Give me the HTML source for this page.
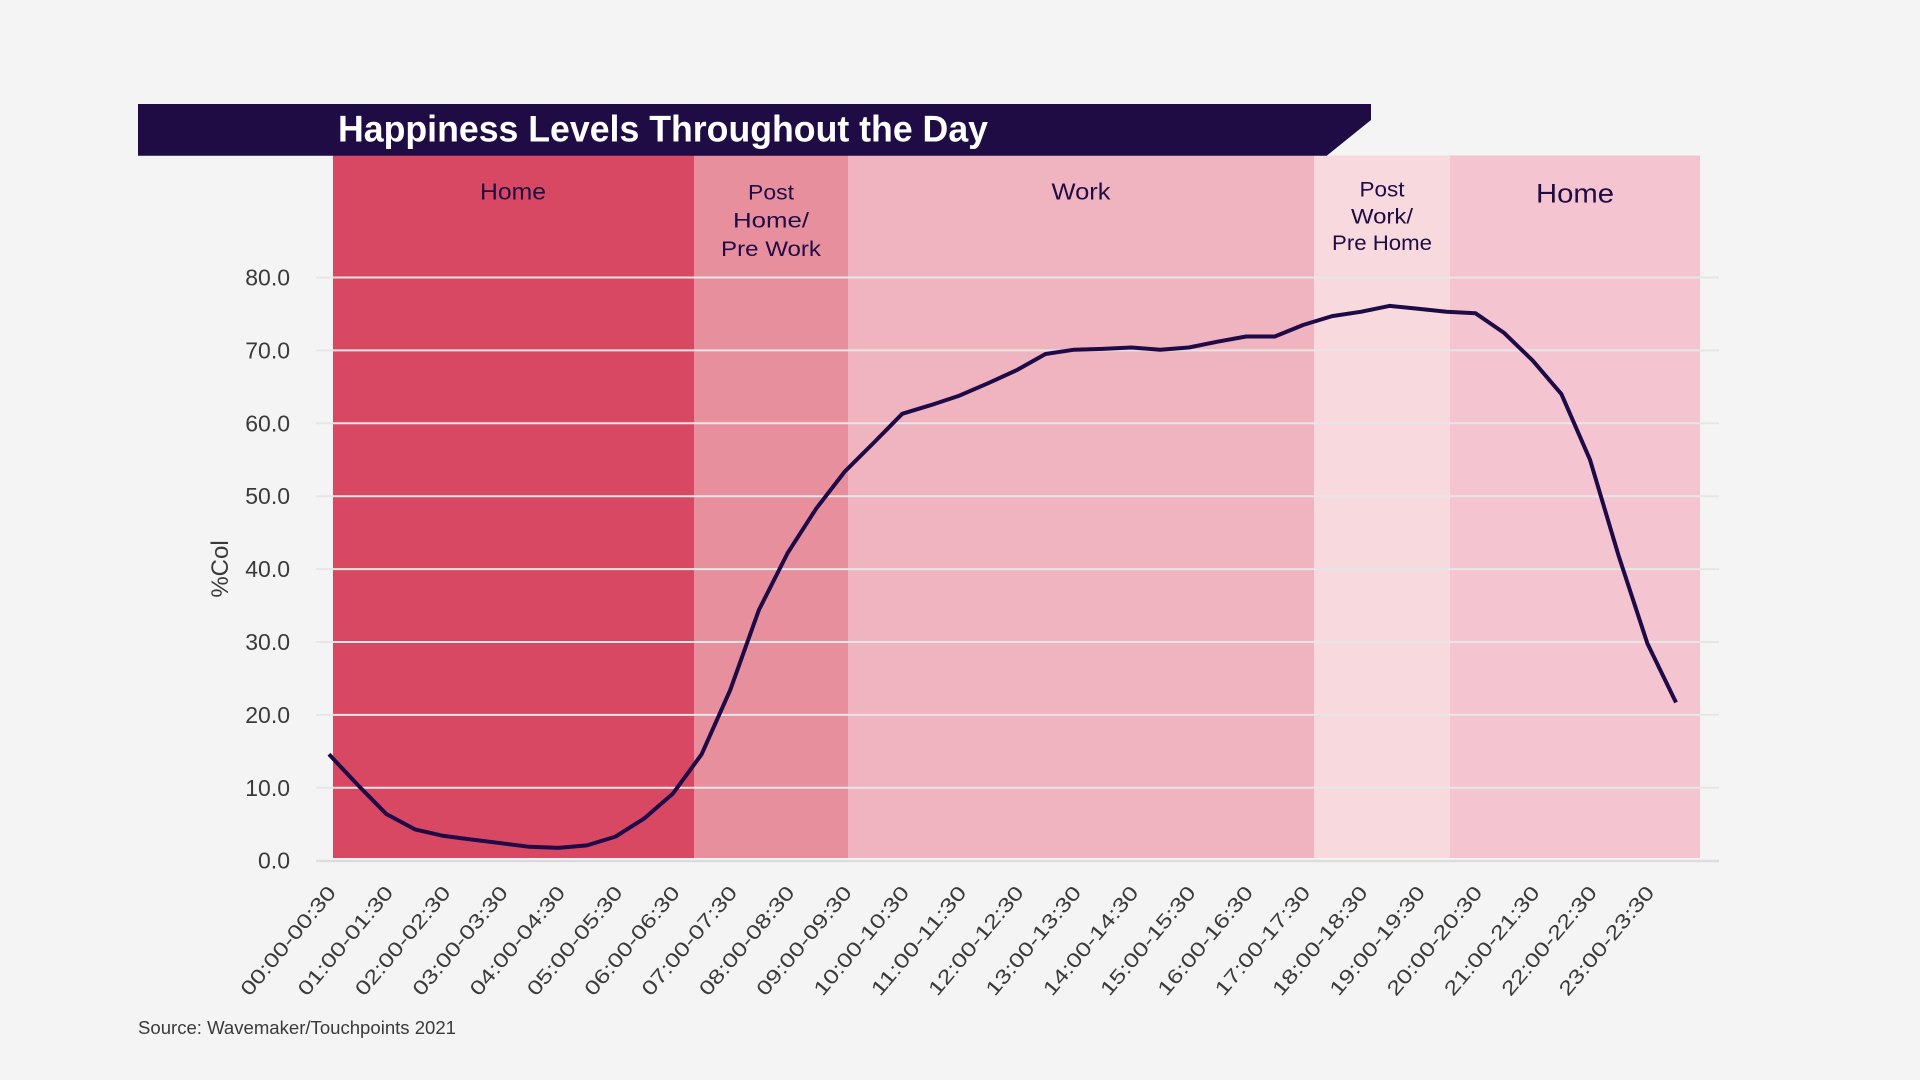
<!DOCTYPE html>
<html>
<head>
<meta charset="utf-8">
<style>
  html, body { margin: 0; padding: 0; background: #f4f4f4; }
  svg { display: block; }
  text { font-family: "Liberation Sans", "DejaVu Sans", sans-serif; }
</style>
</head>
<body>
<svg width="1920" height="1080" viewBox="0 0 1920 1080" xmlns="http://www.w3.org/2000/svg">
  <rect x="0" y="0" width="1920" height="1080" fill="#f4f4f4"/>

  <!-- Bands -->
  <rect x="333" y="155.5" width="361" height="702.5" fill="#d94862"/>
  <rect x="694" y="155.5" width="154" height="702.5" fill="#e88f9e"/>
  <rect x="848" y="155.5" width="466" height="702.5" fill="#f0b3c0"/>
  <rect x="1314" y="155.5" width="136" height="702.5" fill="#f8d9de"/>
  <rect x="1450" y="155.5" width="250" height="702.5" fill="#f4c4d1"/>

  <!-- Title bar -->
  <polygon points="138,104 1371,104 1371,120 1326.7,155.7 138,155.7" fill="#1f0c44"/>
  <text x="338" y="141.5" font-size="37" font-weight="bold" fill="#ffffff" textLength="650" lengthAdjust="spacingAndGlyphs">Happiness Levels Throughout the Day</text>

  <!-- Band labels -->
  <g fill="#1f0c44" text-anchor="middle">
    <text x="513" y="199.5" font-size="23" textLength="66" lengthAdjust="spacingAndGlyphs">Home</text>
    <text x="771" y="199.5" font-size="21" textLength="46" lengthAdjust="spacingAndGlyphs">Post</text>
    <text x="771" y="227.5" font-size="21" textLength="76" lengthAdjust="spacingAndGlyphs">Home/</text>
    <text x="771" y="256" font-size="21" textLength="100" lengthAdjust="spacingAndGlyphs">Pre Work</text>
    <text x="1081" y="199.5" font-size="23" textLength="59" lengthAdjust="spacingAndGlyphs">Work</text>
    <text x="1382" y="196.7" font-size="21" textLength="45" lengthAdjust="spacingAndGlyphs">Post</text>
    <text x="1382" y="223.3" font-size="21" textLength="62" lengthAdjust="spacingAndGlyphs">Work/</text>
    <text x="1382" y="250" font-size="21" textLength="100" lengthAdjust="spacingAndGlyphs">Pre Home</text>
    <text x="1575" y="202.7" font-size="27" textLength="78" lengthAdjust="spacingAndGlyphs">Home</text>
  </g>

  <!-- Gridlines -->
  <g stroke="#e6e6e6" stroke-width="2">
    <line x1="316" y1="787.8" x2="1719" y2="787.8"/>
    <line x1="316" y1="714.9" x2="1719" y2="714.9"/>
    <line x1="316" y1="642.0" x2="1719" y2="642.0"/>
    <line x1="316" y1="569.1" x2="1719" y2="569.1"/>
    <line x1="316" y1="496.2" x2="1719" y2="496.2"/>
    <line x1="316" y1="423.3" x2="1719" y2="423.3"/>
    <line x1="316" y1="350.4" x2="1719" y2="350.4"/>
    <line x1="316" y1="277.5" x2="1719" y2="277.5"/>
  </g>
  <line x1="316" y1="861" x2="1719" y2="861" stroke="#dcdbe0" stroke-width="2.5"/>

  <!-- Y tick labels -->
  <g fill="#3a3a3a" font-size="23" text-anchor="end">
    <text x="290" y="868.7">0.0</text>
    <text x="290" y="795.8">10.0</text>
    <text x="290" y="722.9">20.0</text>
    <text x="290" y="650.0">30.0</text>
    <text x="290" y="577.1">40.0</text>
    <text x="290" y="504.2">50.0</text>
    <text x="290" y="431.3">60.0</text>
    <text x="290" y="358.4">70.0</text>
    <text x="290" y="285.5">80.0</text>
  </g>
  <text transform="translate(228,569) rotate(-90)" text-anchor="middle" font-size="24" fill="#3a3a3a">%Col</text>

  <!-- Data line -->
  <polyline fill="none" stroke="#1e0a46" stroke-width="4" stroke-linejoin="round" stroke-linecap="butt"
    points="329.0,754.3 357.7,784.9 386.3,814.0 415.0,829.4 443.6,835.9 472.3,839.6 501.0,843.2 529.6,846.8 558.3,847.9 586.9,845.4 615.6,836.6 644.3,818.4 672.9,793.6 701.6,754.3 730.2,690.1 758.9,609.9 787.6,553.1 816.2,508.6 844.9,471.4 873.5,443.0 902.2,413.8 930.9,405.1 959.5,395.6 988.2,383.2 1016.8,370.1 1045.5,354.0 1074.2,349.7 1102.8,348.9 1131.5,347.5 1160.1,349.7 1188.8,347.5 1217.5,341.7 1246.1,336.5 1274.8,336.5 1303.4,324.9 1332.1,316.1 1360.8,311.8 1389.4,305.9 1418.1,308.8 1446.7,311.8 1475.4,313.2 1504.1,332.9 1532.7,360.6 1561.4,394.1 1590.0,459.7 1618.7,556.0 1647.4,643.5 1676.0,702.5"/>

  <!-- X tick labels -->
  <g fill="#3a3a3a" font-size="20" text-anchor="end">
    <text transform="translate(337.0,893) rotate(-50)" textLength="136" lengthAdjust="spacingAndGlyphs">00:00-00:30</text>
    <text transform="translate(394.3,893) rotate(-50)" textLength="136" lengthAdjust="spacingAndGlyphs">01:00-01:30</text>
    <text transform="translate(451.6,893) rotate(-50)" textLength="136" lengthAdjust="spacingAndGlyphs">02:00-02:30</text>
    <text transform="translate(509.0,893) rotate(-50)" textLength="136" lengthAdjust="spacingAndGlyphs">03:00-03:30</text>
    <text transform="translate(566.3,893) rotate(-50)" textLength="136" lengthAdjust="spacingAndGlyphs">04:00-04:30</text>
    <text transform="translate(623.6,893) rotate(-50)" textLength="136" lengthAdjust="spacingAndGlyphs">05:00-05:30</text>
    <text transform="translate(680.9,893) rotate(-50)" textLength="136" lengthAdjust="spacingAndGlyphs">06:00-06:30</text>
    <text transform="translate(738.2,893) rotate(-50)" textLength="136" lengthAdjust="spacingAndGlyphs">07:00-07:30</text>
    <text transform="translate(795.6,893) rotate(-50)" textLength="136" lengthAdjust="spacingAndGlyphs">08:00-08:30</text>
    <text transform="translate(852.9,893) rotate(-50)" textLength="136" lengthAdjust="spacingAndGlyphs">09:00-09:30</text>
    <text transform="translate(910.2,893) rotate(-50)" textLength="136" lengthAdjust="spacingAndGlyphs">10:00-10:30</text>
    <text transform="translate(967.5,893) rotate(-50)" textLength="136" lengthAdjust="spacingAndGlyphs">11:00-11:30</text>
    <text transform="translate(1024.8,893) rotate(-50)" textLength="136" lengthAdjust="spacingAndGlyphs">12:00-12:30</text>
    <text transform="translate(1082.2,893) rotate(-50)" textLength="136" lengthAdjust="spacingAndGlyphs">13:00-13:30</text>
    <text transform="translate(1139.5,893) rotate(-50)" textLength="136" lengthAdjust="spacingAndGlyphs">14:00-14:30</text>
    <text transform="translate(1196.8,893) rotate(-50)" textLength="136" lengthAdjust="spacingAndGlyphs">15:00-15:30</text>
    <text transform="translate(1254.1,893) rotate(-50)" textLength="136" lengthAdjust="spacingAndGlyphs">16:00-16:30</text>
    <text transform="translate(1311.4,893) rotate(-50)" textLength="136" lengthAdjust="spacingAndGlyphs">17:00-17:30</text>
    <text transform="translate(1368.8,893) rotate(-50)" textLength="136" lengthAdjust="spacingAndGlyphs">18:00-18:30</text>
    <text transform="translate(1426.1,893) rotate(-50)" textLength="136" lengthAdjust="spacingAndGlyphs">19:00-19:30</text>
    <text transform="translate(1483.4,893) rotate(-50)" textLength="136" lengthAdjust="spacingAndGlyphs">20:00-20:30</text>
    <text transform="translate(1540.7,893) rotate(-50)" textLength="136" lengthAdjust="spacingAndGlyphs">21:00-21:30</text>
    <text transform="translate(1598.0,893) rotate(-50)" textLength="136" lengthAdjust="spacingAndGlyphs">22:00-22:30</text>
    <text transform="translate(1655.4,893) rotate(-50)" textLength="136" lengthAdjust="spacingAndGlyphs">23:00-23:30</text>
  </g>

  <!-- Source -->
  <text x="138" y="1034" font-size="18" fill="#3a3a3a" textLength="318" lengthAdjust="spacingAndGlyphs">Source: Wavemaker/Touchpoints 2021</text>
</svg>
</body>
</html>
